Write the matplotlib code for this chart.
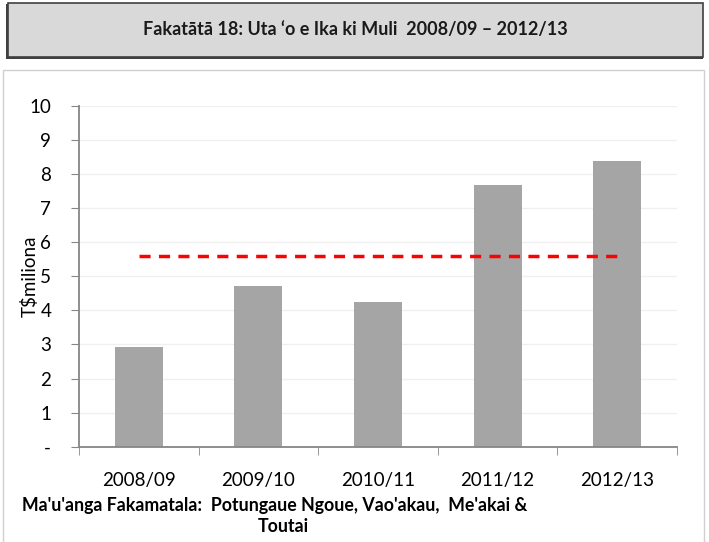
import matplotlib.pyplot as plt
from matplotlib.patches import Rectangle

plt.rcParams['font.family'] = ['Lato', 'DejaVu Sans']

years = ['2008/09', '2009/10', '2010/11', '2011/12', '2012/13']
values = [2.93, 4.71, 4.24, 7.67, 8.37]
average = 5.6
y_ticks = [0, 1, 2, 3, 4, 5, 6, 7, 8, 9, 10]
y_labels = ['-', '1', '2', '3', '4', '5', '6', '7', '8', '9', '10']

fig = plt.figure(figsize=(7.09, 5.42), dpi=100)

# chart area frame
fig.patches.append(Rectangle((3 / 709, -0.01), 701 / 709, 1 - 70 / 542 + 0.01,
                             transform=fig.transFigure, fill=False,
                             edgecolor='#d0d0d0', lw=1))
# title box with shadow
fig.patches.append(Rectangle((6 / 709, 1 - 59 / 542), 697 / 709, 55 / 542,
                             transform=fig.transFigure, facecolor='#404040',
                             edgecolor='none'))
fig.patches.append(Rectangle((8 / 709, 1 - 57 / 542), 695 / 709, 54 / 542,
                             transform=fig.transFigure, facecolor='#d9d9d9',
                             edgecolor='#404040', lw=1.2))
fig.text(355 / 709, 1 - 30 / 542, 'Fakatātā 18: Uta ‘o e Ika ki Muli  2008/09 – 2012/13',
         ha='center', va='center', fontsize=13, fontweight='bold', color='#1a1a1a')

ax = fig.add_axes([79 / 709, 1 - 446.7 / 542, 598 / 709, 341 / 542])
x = range(len(years))
ax.bar(x, values, width=0.4, color='#a5a5a5', zorder=2)
ax.plot([0, len(years) - 1], [average, average], color='#ff0000', lw=2.5,
        dashes=(3.2, 2.4), zorder=3)

ax.set_xlim(-0.5, len(years) - 0.5)
ax.set_ylim(0, 10)
ax.set_yticks(y_ticks)
ax.set_yticklabels(y_labels, fontsize=13.5)
ax.set_xticks(list(x))
ax.set_xticklabels(years, fontsize=13.5)
ax.set_xticks([i - 0.5 for i in range(len(years) + 1)], minor=True)
ax.tick_params(axis='x', which='major', length=0, pad=18)
ax.tick_params(axis='x', which='minor', length=6, color='#868686')
ax.tick_params(axis='y', length=6, color='#868686', pad=14)
ax.grid(axis='y', color='#f0f0f0', lw=1, zorder=0)
for s in ['top', 'right']:
    ax.spines[s].set_visible(False)
for s in ['left', 'bottom']:
    ax.spines[s].set_color('#868686')
    ax.spines[s].set_linewidth(1.3)
ax.set_ylabel('T$miliona', fontsize=13.5)
ax.yaxis.set_label_coords(-0.067, 0.5)

fig.text(22 / 709, 1 - 505 / 542, "Ma'u'anga Fakamatala:  Potungaue Ngoue, Vao'akau,  Me'akai &",
         ha='left', va='center', fontsize=12.8, fontweight='bold')
fig.text(283 / 709, 1 - 527 / 542, 'Toutai', ha='center', va='center',
         fontsize=12.8, fontweight='bold')

fig.savefig('out.png', dpi=100)
